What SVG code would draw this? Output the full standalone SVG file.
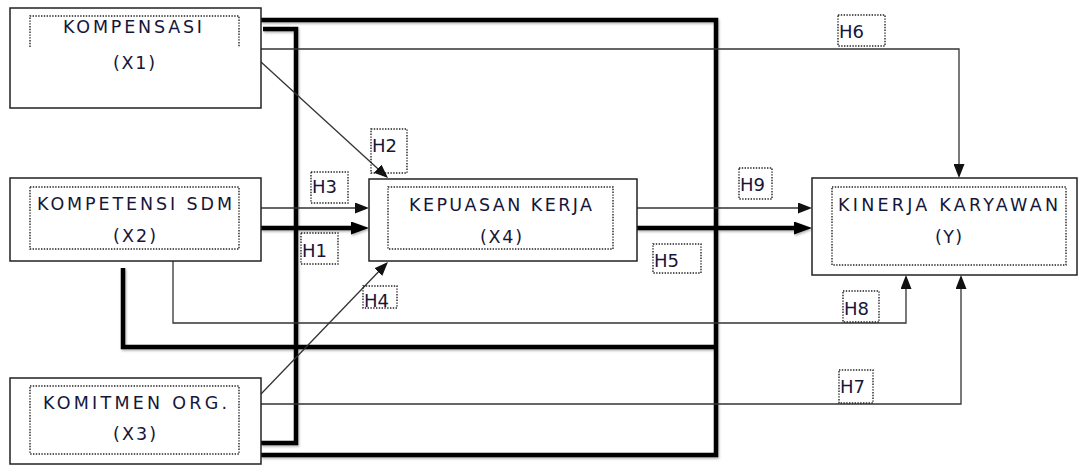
<svg xmlns="http://www.w3.org/2000/svg" width="1082" height="466" viewBox="0 0 1082 466">
<defs>
<marker id="arT" markerUnits="userSpaceOnUse" markerWidth="14" markerHeight="11" refX="8" refY="5.5" orient="auto"><path d="M0,0 L14,5.5 L0,11 z" fill="#111"/></marker>
<marker id="arK" markerUnits="userSpaceOnUse" markerWidth="18" markerHeight="13" refX="10" refY="6.5" orient="auto"><path d="M0,0 L18,6.5 L0,13 z" fill="#000"/></marker>
<filter id="sh" x="-5%" y="-5%" width="110%" height="110%"><feDropShadow dx="1" dy="1.5" stdDeviation="1.2" flood-color="#000" flood-opacity="0.3"/></filter>
</defs>
<style>
.box{fill:#fff;stroke:#222;stroke-width:1.5}
.dot{fill:none;stroke:#222;stroke-width:1.4;stroke-dasharray:1.4 1.4}
.thin{fill:none;stroke:#333;stroke-width:1.3}
.thick{fill:none;stroke:#000;stroke-width:4.5;stroke-linejoin:miter}
.t{font-family:"DejaVu Sans",Verdana,sans-serif;font-size:17.5px;fill:#16163a}
.h{font-family:"DejaVu Sans",Verdana,sans-serif;font-size:18px;fill:#16163a}
</style>
<rect width="1082" height="466" fill="#fff"/>
<g id="connectors">
  <g filter="url(#sh)">
    <path class="thick" d="M261,20 H716 V455 H261"/>
    <path class="thick" d="M263,29 H296 V443 H261"/>
    <path class="thick" d="M123,268 V347 H716"/>
    <path class="thick" d="M261,228 H361" marker-end="url(#arK)"/>
    <path class="thick" d="M637,228 H804" marker-end="url(#arK)"/>
  </g>
  <path class="thin" d="M261,49 H959 V172" marker-end="url(#arT)"/>
  <path class="thin" d="M261,62 L383.6,174" marker-end="url(#arT)"/>
  <path class="thin" d="M261,208 H363" marker-end="url(#arT)"/>
  <path class="thin" d="M173,261 V323 H906 V281" marker-end="url(#arT)"/>
  <path class="thin" d="M261,394 L383.8,266.3" marker-end="url(#arT)"/>
  <path class="thin" d="M261,404 H961 V281" marker-end="url(#arT)"/>
  <path class="thin" d="M637,208 H806" marker-end="url(#arT)"/>
</g>
<g id="labels">
  <g id="lbl-h6"><rect class="dot" x="838" y="15" width="47" height="31"/><text class="h" x="839" y="38">H6</text></g>
  <g id="lbl-h2"><rect class="dot" x="371" y="129" width="36" height="44"/><text class="h" x="372" y="152">H2</text></g>
  <g id="lbl-h3"><rect class="dot" x="311" y="172" width="37" height="31"/><text class="h" x="312" y="193">H3</text></g>
  <g id="lbl-h1"><rect class="dot" x="301" y="233" width="37" height="31"/><text class="h" x="302" y="257">H1</text></g>
  <g id="lbl-h5"><rect class="dot" x="653" y="244" width="48" height="29"/><text class="h" x="654" y="267">H5</text></g>
  <g id="lbl-h4"><rect class="dot" x="363" y="286" width="34" height="22"/><text class="h" x="364" y="307">H4</text></g>
  <g id="lbl-h9"><rect class="dot" x="739" y="168" width="33" height="31"/><text class="h" x="740" y="191">H9</text></g>
  <g id="lbl-h8"><rect class="dot" x="843" y="291" width="36" height="31"/><text class="h" x="844" y="315">H8</text></g>
  <g id="lbl-h7"><rect class="dot" x="839" y="370" width="34" height="33"/><text class="h" x="840" y="393">H7</text></g>
</g>
<g id="node-x1">
  <rect class="box" x="10" y="8" width="251" height="100"/>
  <path class="dot" d="M30,47 V16 H239 V47"/>
  <text class="t" x="63" y="33" textLength="139" lengthAdjust="spacing">KOMPENSASI</text>
  <text class="t" x="113" y="69" textLength="42" lengthAdjust="spacing">(X1)</text>
</g>
<g id="node-x2">
  <rect class="box" x="10" y="178" width="251" height="83"/>
  <rect class="dot" x="30" y="187" width="209" height="62"/>
  <text class="t" x="37" y="210" textLength="195" lengthAdjust="spacing">KOMPETENSI  SDM</text>
  <text class="t" x="113" y="242" textLength="43" lengthAdjust="spacing">(X2)</text>
</g>
<g id="node-x3">
  <rect class="box" x="10" y="378" width="251" height="86"/>
  <rect class="dot" x="30" y="386" width="209" height="68"/>
  <text class="t" x="43" y="409" textLength="184" lengthAdjust="spacing">KOMITMEN  ORG.</text>
  <text class="t" x="113" y="440" textLength="43" lengthAdjust="spacing">(X3)</text>
</g>
<g id="node-x4">
  <rect class="box" x="369" y="179" width="268" height="82"/>
  <rect class="dot" x="388" y="187" width="225" height="62"/>
  <text class="t" x="409" y="211" textLength="183" lengthAdjust="spacing">KEPUASAN  KERJA</text>
  <text class="t" x="480" y="243" textLength="42" lengthAdjust="spacing">(X4)</text>
</g>
<g id="node-y">
  <rect class="box" x="812" y="178" width="265" height="97"/>
  <rect class="dot" x="832" y="187" width="234" height="78"/>
  <text class="t" x="838" y="211" textLength="220" lengthAdjust="spacing">KINERJA  KARYAWAN</text>
  <text class="t" x="935" y="243" textLength="27" lengthAdjust="spacing">(Y)</text>
</g>
</svg>
